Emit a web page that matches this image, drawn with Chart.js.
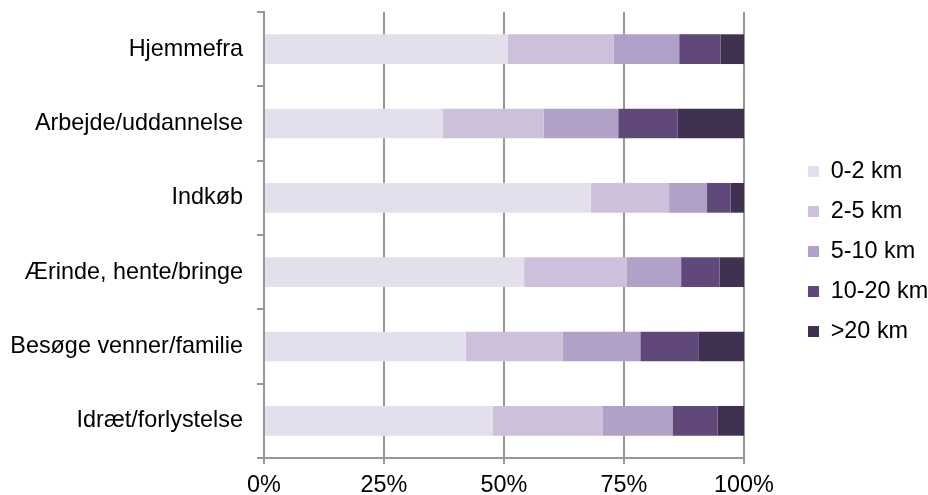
<!DOCTYPE html>
<html>
<head>
<meta charset="utf-8">
<script src="https://cdn.jsdelivr.net/npm/chart.js@4/dist/chart.umd.min.js"></script>
<style>
  html, body { margin: 0; padding: 0; background: #ffffff; }
  #wrap { width: 928px; height: 495px; position: relative; }
</style>
</head>
<body>
<div id="wrap"><canvas id="chart"></canvas></div>
<script>
// Trip purposes and the share of trips in each distance band (percent)
const purposes = ['Hjemmefra', 'Arbejde/uddannelse', 'Indkøb', 'Ærinde, hente/bringe', 'Besøge venner/familie', 'Idræt/forlystelse'];
const bandLabels = ['0-2 km', '2-5 km', '5-10 km', '10-20 km', '>20 km'];
const band0to2   = [50.8, 37.2, 68.1, 54.2, 42.0, 47.6];
const band2to5   = [22.1, 21.1, 16.3, 21.3, 20.2, 23.0];
const band5to10  = [13.6, 15.5,  7.9, 11.4, 16.2, 14.5];
const band10to20 = [ 8.6, 12.4,  4.9,  8.0, 12.2,  9.4];
const bandOver20 = [ 4.9, 13.9,  2.8,  5.1,  9.4,  5.5];
const xTicks = [0, 25, 50, 75, 100];

const bandColors = ['#E4DFEC', '#CCC0DA', '#B1A0C7', '#60497A', '#403151'];
const bandValues = [band0to2, band2to5, band5to10, band10to20, bandOver20];

const FONT = "'Liberation Sans', Arial, sans-serif";
const FONT_SIZE = 23.4;
const AXIS_GREY = '#979797';
const LEGEND_WIDTH = 184;   // space reserved right of the plot
const LEGEND_ITEMS_X = 808; // left edge of the legend swatches
const LEGEND_PAD = 16.6;
const LEGEND_RAISE = 2;

// Keep a wide gutter between the plot and the legend entries
const legendGutter = {
  id: 'legendGutter',
  beforeInit(chart) {
    const legend = chart.legend;
    const fit = legend.fit;
    legend.fit = function () {
      fit.call(this);
      this.width = LEGEND_WIDTH;
    };
  },
  afterLayout(chart) {
    const legend = chart.legend;
    legend.left = LEGEND_ITEMS_X - LEGEND_PAD;
    legend.top -= LEGEND_RAISE;
    legend.bottom -= LEGEND_RAISE;
  }
};

new Chart(document.getElementById('chart'), {
  type: 'bar',
  data: {
    labels: purposes,
    datasets: bandLabels.map((label, i) => ({
      label: label,
      data: bandValues[i],
      backgroundColor: bandColors[i],
      borderWidth: 0,
      categoryPercentage: 1,
      barPercentage: 0.4
    }))
  },
  options: {
    indexAxis: 'y',
    responsive: true,
    maintainAspectRatio: false,
    animation: false,
    layout: { padding: { top: 12, right: 0, bottom: 0, left: 0 } },
    scales: {
      x: {
        stacked: true,
        min: 0,
        max: 100,
        afterBuildTicks(scale) { scale.ticks = xTicks.map(v => ({ value: v })); },
        afterFit(scale) {
          scale.height = 37;
          scale.paddingLeft = 0;
          scale.paddingRight = 0;
        },
        grid: { color: AXIS_GREY, lineWidth: 2, tickLength: 6, drawOnChartArea: true },
        border: { display: true, color: AXIS_GREY, width: 2 },
        ticks: {
          padding: 8,
          color: '#000',
          font: { family: FONT, size: FONT_SIZE },
          callback: v => v + '%'
        }
      },
      y: {
        stacked: true,
        afterFit(scale) {
          scale.width = 264;
          scale.paddingTop = 0;
          scale.paddingBottom = 0;
        },
        grid: { drawOnChartArea: false, offset: true, color: AXIS_GREY, lineWidth: 2, tickLength: 7 },
        border: { display: true, color: AXIS_GREY, width: 2 },
        ticks: {
          padding: 14,
          color: '#000',
          font: { family: FONT, size: FONT_SIZE }
        }
      }
    },
    plugins: {
      legend: {
        position: 'right',
        labels: {
          boxWidth: 11,
          boxHeight: 11,
          padding: LEGEND_PAD,
          color: '#000',
          font: { family: FONT, size: FONT_SIZE }
        }
      },
      tooltip: { enabled: false }
    }
  },
  plugins: [legendGutter]
});
</script>
</body>
</html>
